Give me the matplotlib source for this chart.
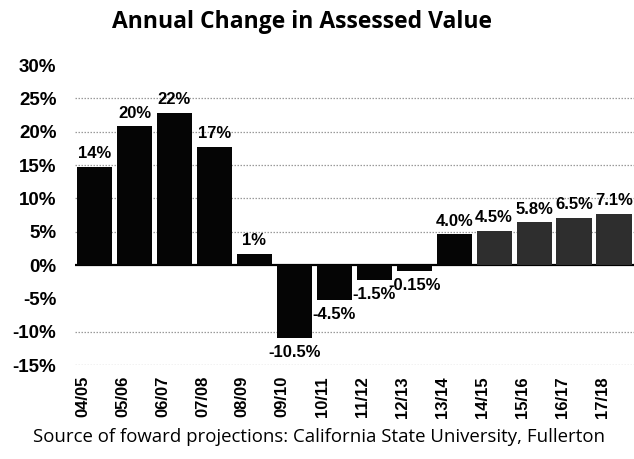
import matplotlib
matplotlib.use("Agg")
import matplotlib.pyplot as plt
import matplotlib.transforms as mtransforms

categories = ["04/05", "05/06", "06/07", "07/08", "08/09", "09/10", "10/11",
              "11/12", "12/13", "13/14", "14/15", "15/16", "16/17", "17/18"]
bar_heights = [14.7, 20.8, 22.8, 17.7, 1.7, -11.0, -5.2, -2.2, -0.9,
               4.6, 5.1, 6.4, 7.1, 7.7]
value_labels = ["14%", "20%", "22%", "17%", "1%", "-10.5%", "-4.5%", "-1.5%",
                "-0.15%", "4.0%", "4.5%", "5.8%", "6.5%", "7.1%"]
projected = [False] * 10 + [True] * 4
y_ticks = [30, 25, 20, 15, 10, 5, 0, -5, -10, -15]
grid_levels = [25, 20, 15, 10, 5, -10, -15]

W, H = 634, 459
fig = plt.figure(figsize=(W / 100, H / 100), dpi=100)
ax = fig.add_axes([74.5 / W, 1 - 365 / H, (634 - 74.5) / W, 300 / H])

bold = dict(family="Liberation Sans", weight="bold")

x = list(range(len(categories)))
colors = ["#2e2e2e" if p else "#050505" for p in projected]
ax.bar(x, bar_heights, width=0.88, color=colors, zorder=3)

for lv in grid_levels:
    ax.axhline(lv, color="#9a9a9a", lw=0.9, ls=(0, (1.2, 1.2)), zorder=1)
ax.axhline(0, color="black", lw=1.6, zorder=2)

ax.set_xlim(-0.5, len(categories) - 0.5)
ax.set_ylim(-15, 30)
ax.set_yticks(y_ticks)
ax.set_yticklabels([f"{t}%" for t in y_ticks], fontsize=13.5, **bold)
ax.set_xticks(x)
ax.set_xticklabels(categories, rotation=90, fontsize=12, **bold)
ax.tick_params(axis="both", length=0)
ax.tick_params(axis="y", pad=13)
ax.tick_params(axis="x", pad=8)
shift = mtransforms.ScaledTranslation(-12 / 100, 0, fig.dpi_scale_trans)
for lab in ax.get_xticklabels():
    lab.set_transform(lab.get_transform() + shift)
for s in ax.spines.values():
    s.set_visible(False)

for xi, h, lab in zip(x, bar_heights, value_labels):
    if h >= 0:
        ax.annotate(lab, (xi, h), xytext=(0, 4), textcoords="offset points",
                    ha="center", va="bottom", fontsize=12, zorder=4, **bold)
    else:
        ax.annotate(lab, (xi, h), xytext=(0, -5), textcoords="offset points",
                    ha="center", va="top", fontsize=12, zorder=4, **bold)

fig.text(302 / W, 1 - 22 / H, "Annual Change in Assessed Value",
         ha="center", va="center", fontsize=16.5, family="Open Sans", weight="bold")
fig.text(319 / W, 1 - 437 / H,
         "Source of foward projections: California State University, Fullerton",
         ha="center", va="center", fontsize=13.4, family="Open Sans")

fig.savefig("out.png", dpi=100)
